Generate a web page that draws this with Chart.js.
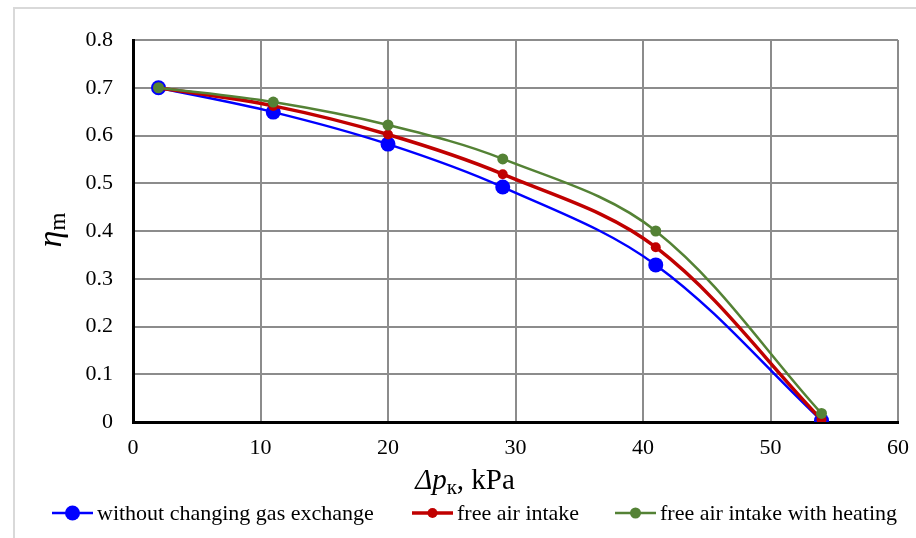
<!DOCTYPE html>
<html>
<head>
<meta charset="utf-8">
<script src="https://cdn.jsdelivr.net/npm/chart.js@4.4.1/dist/chart.umd.min.js"></script>
<style>
  html, body { margin: 0; padding: 0; background: #fff; }
  #wrap { position: relative; width: 916px; height: 538px; }
  #frame { position: absolute; left: 13px; top: 7px; right: 0; bottom: 0; border-left: 2px solid #d9d9d9; border-top: 2px solid #d9d9d9; pointer-events: none; }
</style>
</head>
<body>
<div id="wrap">
  <canvas id="c" width="916" height="538"></canvas>
  <div id="frame"></div>
</div>
<script>
// pressure drop, kPa
const pressure = [2, 11, 20, 29, 41, 54];
const seriesNames = ['without changing gas exchange', 'free air intake', 'free air intake with heating'];
const etaWithout = [0.700, 0.649, 0.582, 0.492, 0.329, 0.003];
const etaFreeAir = [0.700, 0.662, 0.602, 0.519, 0.366, 0.005];
const etaHeating = [0.700, 0.670, 0.622, 0.551, 0.400, 0.018];
const xTicks = [0, 10, 20, 30, 40, 50, 60];
const yTicks = [0, 0.1, 0.2, 0.3, 0.4, 0.5, 0.6, 0.7, 0.8];

const serif = '"Liberation Serif", "Times New Roman", serif';
const pts = arr => arr.map((v, i) => ({x: pressure[i], y: v}));

// draws a run of differently styled text pieces centred on cx
function drawParts(ctx, parts, cx, baseY) {
  let w = 0;
  parts.forEach(p => { ctx.font = p.f; w += ctx.measureText(p.t).width; });
  let x = cx - w / 2;
  parts.forEach(p => { ctx.font = p.f; ctx.fillText(p.t, x, baseY + p.dy); x += ctx.measureText(p.t).width; });
}

const titles = {
  id: 'titles',
  afterDraw(chart) {
    const ctx = chart.ctx;
    ctx.save();
    ctx.fillStyle = '#000';
    ctx.textBaseline = 'alphabetic';
    drawParts(ctx, [
      {t: 'Δp', f: 'italic 29px ' + serif, dy: 0},
      {t: 'к', f: '21px ' + serif, dy: 5},
      {t: ', kPa', f: '29px ' + serif, dy: 0}
    ], 465, 489);
    ctx.translate(61, 230);
    ctx.rotate(-Math.PI / 2);
    drawParts(ctx, [
      {t: 'η', f: 'italic 34px ' + serif, dy: 0},
      {t: 'm', f: '23px ' + serif, dy: 4}
    ], 0, 0);
    ctx.restore();
  }
};

const legendPlugin = {
  id: 'bottomLegend',
  afterDraw(chart) {
    const ctx = chart.ctx;
    const starts = [52, 412, 615];
    ctx.save();
    ctx.font = '22px ' + serif;
    ctx.textBaseline = 'middle';
    chart.data.datasets.forEach((ds, i) => {
      const x0 = starts[i], y = 513;
      ctx.strokeStyle = ds.borderColor;
      ctx.lineWidth = ds.borderWidth;
      ctx.beginPath(); ctx.moveTo(x0, y); ctx.lineTo(x0 + 41, y); ctx.stroke();
      ctx.fillStyle = ds.backgroundColor;
      ctx.beginPath(); ctx.arc(x0 + 20.5, y, ds.pointRadius, 0, Math.PI * 2); ctx.fill();
      ctx.fillStyle = '#000';
      ctx.fillText(ds.label, x0 + 45, y + 1);
    });
    ctx.restore();
  }
};

new Chart(document.getElementById('c'), {
  type: 'scatter',
  data: {
    datasets: [
      {label: seriesNames[0], data: pts(etaWithout), borderColor: '#0000ff', backgroundColor: '#0000ff', borderWidth: 2.5, pointRadius: 7.5, order: 3},
      {label: seriesNames[1], data: pts(etaFreeAir), borderColor: '#c00000', backgroundColor: '#c00000', borderWidth: 3.5, pointRadius: 5, order: 2},
      {label: seriesNames[2], data: pts(etaHeating), borderColor: '#548235', backgroundColor: '#548235', borderWidth: 2.5, pointRadius: 5.5, order: 1}
    ].map(d => Object.assign(d, {showLine: true, tension: 0.35, pointBorderWidth: 0, pointHoverRadius: d.pointRadius}))
  },
  options: {
    responsive: false,
    animation: false,
    layout: {padding: {left: 0, top: 40, right: 18, bottom: 0}},
    plugins: {legend: {display: false}, tooltip: {enabled: false}},
    scales: {
      x: {
        type: 'linear', min: 0, max: 60,
        afterBuildTicks: s => { s.ticks = xTicks.map(v => ({value: v})); },
        afterFit: s => { s.height = 116; s.paddingLeft = 0; s.paddingRight = 0; },
        grid: {color: '#8c8c8c', lineWidth: 2, drawTicks: false},
        border: {color: '#000', width: 3},
        ticks: {padding: 13, color: '#000', font: {family: serif, size: 22}}
      },
      y: {
        type: 'linear', min: 0, max: 0.8,
        afterBuildTicks: s => { s.ticks = yTicks.map(v => ({value: v})); },
        afterFit: s => { s.width = 133; s.paddingTop = 0; s.paddingBottom = 0; },
        grid: {color: '#8c8c8c', lineWidth: 2, drawTicks: false},
        border: {color: '#000', width: 3},
        ticks: {padding: 20, color: '#000', font: {family: serif, size: 22}, callback: v => String(Math.round(v * 10) / 10)}
      }
    }
  },
  plugins: [titles, legendPlugin]
});
</script>
</body>
</html>
